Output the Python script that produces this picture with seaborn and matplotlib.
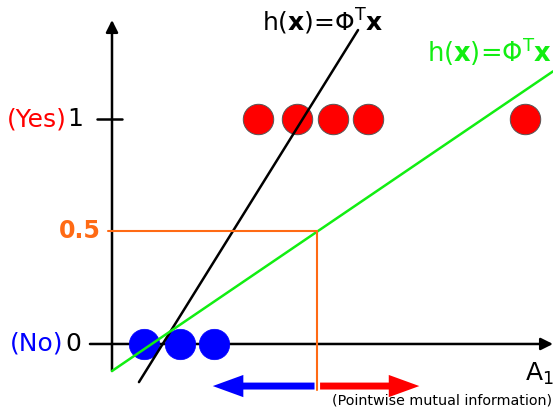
import numpy as np
import pandas as pd
import matplotlib
matplotlib.use("Agg")
import matplotlib.pyplot as plt
from matplotlib.patches import FancyArrowPatch
import seaborn as sns

# Training examples on the single feature axis A1
no_x = [0.91, 1.94, 2.91]                 # class 0 ("No")
yes_x = [4.17, 5.29, 6.31, 7.31, 11.8]    # class 1 ("Yes")
class_no, class_yes = 0.0, 1.0

# Two linear hypotheses h(x) = w*x + b
steep_w, steep_b = 0.25, -0.362
steep_range = [0.77, 7.03]
shallow_w, shallow_b = 0.1057, -0.12
shallow_range = [0.0, 12.6]

threshold = 0.5

sns.set_theme(style="white")
plt.rcParams["font.family"] = ["DejaVu Sans"]
plt.rcParams["mathtext.fontset"] = "dejavusans"

fig = plt.figure(figsize=(5.53, 4.09), dpi=100)
ax = fig.add_axes([0, 0, 1, 1])
ax.set_xlim(-3.2, 12.6)
ax.set_ylim(-0.289, 1.529)
ax.set_axis_off()

GREEN = "#12ee12"
ORANGE = "#ff6a14"

# axes with arrow heads
ax.annotate("", xy=(0, 1.44), xytext=(0, -0.12),
            arrowprops=dict(arrowstyle="-|>", lw=1.8, color="black",
                            mutation_scale=18, shrinkA=0, shrinkB=0))
ax.annotate("", xy=(12.6, 0), xytext=(-0.63, 0),
            arrowprops=dict(arrowstyle="-|>", lw=1.8, color="black",
                            mutation_scale=18, shrinkA=0, shrinkB=0))
ax.plot([-0.43, 0.29], [class_yes, class_yes], color="black", lw=1.8)

# data points
sns.scatterplot(x=no_x, y=[class_no] * len(no_x), s=480, color="#0000ff",
                edgecolor="#0000ff", linewidth=0.5, legend=False, zorder=3, ax=ax)
sns.scatterplot(x=yes_x, y=[class_yes] * len(yes_x), s=480, color="#ff0000",
                edgecolor="#555555", linewidth=0.7, legend=False, zorder=3, ax=ax)

# hypothesis lines
sx = np.array(steep_range)
sns.lineplot(x=sx, y=steep_w * sx + steep_b, color="black", lw=1.8,
             zorder=4, ax=ax)
gx = np.array(shallow_range)
sns.lineplot(x=gx, y=shallow_w * gx + shallow_b, color=GREEN, lw=1.8,
             zorder=4, ax=ax)

# decision threshold on the shallow hypothesis
x_cut = (threshold - shallow_b) / shallow_w
ax.plot([-0.11, x_cut], [threshold, threshold], color=ORANGE, lw=1.5, zorder=5)
ax.plot([x_cut, x_cut], [threshold, -0.204], color=ORANGE, lw=1.5, zorder=5)

# direction arrows under the axis
y_arr = -0.187
for tip, col in [(2.80, "#0000ff"), (8.86, "#ff0000")]:
    ax.add_patch(FancyArrowPatch((x_cut, y_arr), (tip, y_arr),
                                 arrowstyle="simple,head_length=22,head_width=16,tail_width=5",
                                 mutation_scale=1, color=col, lw=0, zorder=4))

# labels
fs = 18
ax.text(-0.83, class_yes, "1", ha="right", va="center", fontsize=fs, color="black")
ax.text(-1.29, class_yes, "(Yes)", ha="right", va="center", fontsize=fs, color="#ff0000")
ax.text(-0.89, class_no, "0", ha="right", va="center", fontsize=fs, color="black")
ax.text(-1.38, class_no, "(No)", ha="right", va="center", fontsize=fs, color="#0000ff")
ax.text(-0.33, threshold, "0.5", ha="right", va="center", fontsize=17,
        fontweight="bold", color=ORANGE)

hyp = r"h($\mathbf{x}$)=Φ$^{\mathrm{T}}$$\mathbf{x}$"
ax.text(6.03, 1.43, hyp, ha="center", va="center", fontsize=18, color="black")
ax.text(10.78, 1.30, hyp, ha="center", va="center", fontsize=18.5, color=GREEN)

ax.text(11.8, -0.164, r"A$_1$", ha="left", va="baseline", fontsize=18, color="black")
ax.text(12.57, -0.249, "(Pointwise mutual information)", ha="right", va="center",
        fontsize=10.3, color="black")

fig.savefig("out.png", dpi=100)
